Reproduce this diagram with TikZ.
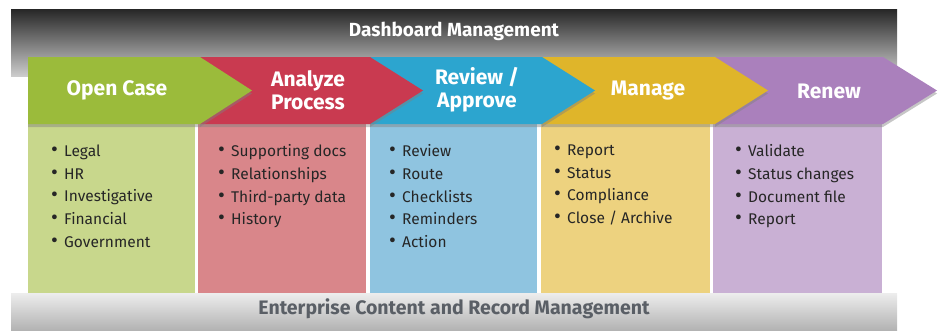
\documentclass[tikz,border=0pt]{standalone}
\usepackage{fontspec}
\setmainfont{Fira Sans}
\usetikzlibrary{positioning,shadows}
\definecolor{caseGreen}{HTML}{9BBB3B}
\definecolor{caseGreenL}{HTML}{C8D78C}
\definecolor{caseRed}{HTML}{C93A50}
\definecolor{caseRedL}{HTML}{D9868A}
\definecolor{caseBlue}{HTML}{2CA5CF}
\definecolor{caseBlueL}{HTML}{8FC4E0}
\definecolor{caseYellow}{HTML}{DFB52A}
\definecolor{caseYellowL}{HTML}{EDD27F}
\definecolor{casePurple}{HTML}{AA80BC}
\definecolor{casePurpleL}{HTML}{C9B0D4}
\definecolor{bandText}{HTML}{5A5F66}
\newcommand{\itemdot}{\makebox[13pt][l]{{\fontsize{21}{0}\selectfont\textbullet}}}

\begin{document}
\begin{tikzpicture}[x=1pt, y=-1pt,
    chevron/.style={drop shadow={shadow xshift=0pt, shadow yshift=-3pt, opacity=.45}},
    column/.style={anchor=north west, inner sep=0pt, minimum width=167pt, minimum height=169pt},
    stage/.style={text=white, align=center, font=\fontsize{21}{23}\selectfont\bfseries},
    items/.style={anchor=north west, inner sep=0pt, align=left, text=black!85,
        font=\fontsize{15.5}{22.7}\selectfont}
]
    \useasboundingbox (0,0) rectangle (941,330);
    % Bands
    \shade[top color=black!85, bottom color=black!20] (11,9) rectangle (897,76);
    \shade[top color=black!7, bottom color=black!30] (11,293) rectangle (897,330);
    \node [text=white, font=\fontsize{19}{21}\selectfont\bfseries] (Dashboard) at (454,31) {Dashboard Management};
    \node [text=bandText, font=\fontsize{19.5}{21}\selectfont\bfseries] (Enterprise) at (454,309) {Enterprise Content and Record Management};
    % Columns
    \node [column, fill=caseGreenL] (OpenCol) at (28,124) {};
    \node [column, fill=caseRedL, minimum width=168pt] (AnalyzeCol) at (198,124) {};
    \node [column, fill=caseBlueL] (ReviewCol) at (370,124) {};
    \node [column, fill=caseYellowL, minimum width=169pt] (ManageCol) at (541,124) {};
    \node [column, fill=casePurpleL, minimum width=169pt] (RenewCol) at (713,124) {};
    % Chevrons
    \fill [casePurple, chevron] (715,57) -- (883,57) -- (937,90.5) -- (883,124) -- (715,124) -- cycle;
    \fill [caseYellow, chevron] (542,57) -- (715,57) -- (768,90.5) -- (715,124) -- (542,124) -- cycle;
    \fill [caseBlue, chevron] (370,57) -- (542,57) -- (595,90.5) -- (542,124) -- (370,124) -- cycle;
    \fill [caseRed, chevron] (200,57) -- (370,57) -- (423,90.5) -- (370,124) -- (200,124) -- cycle;
    \fill [caseGreen, chevron] (28,57) -- (200,57) -- (252,90.5) -- (200,124) -- (28,124) -- cycle;
    % Stage labels
    \node [stage] (OpenCase) at (117,90) {Open Case};
    \node [stage] (Analyze) at (308,90) {Analyze\\Process};
    \node [stage] (Review) at (477,90) {Review /\\Approve};
    \node [stage] (Manage) at (648,91) {Manage};
    \node [stage] (Renew) at (829,91) {Renew};
    % Bullet lists
    \node [items] (OpenList) at (51,144.5) {\itemdot Legal\\\itemdot HR\\\itemdot Investigative\\\itemdot Financial\\\itemdot Government};
    \node [items] (AnalyzeList) at (218,144.5) {\itemdot Supporting docs\\\itemdot Relationships\\\itemdot Third-party data\\\itemdot History};
    \node [items] (ReviewList) at (389,144.5) {\itemdot Review\\\itemdot Route\\\itemdot Checklists\\\itemdot Reminders\\\itemdot Action};
    \node [items] (ManageList) at (554,144.5) {\itemdot Report\\\itemdot Status\\\itemdot Compliance\\\itemdot Close / Archive};
    \node [items] (RenewList) at (735,144.5) {\itemdot Validate\\\itemdot Status changes\\\itemdot Document file\\\itemdot Report};
\end{tikzpicture}
\end{document}
